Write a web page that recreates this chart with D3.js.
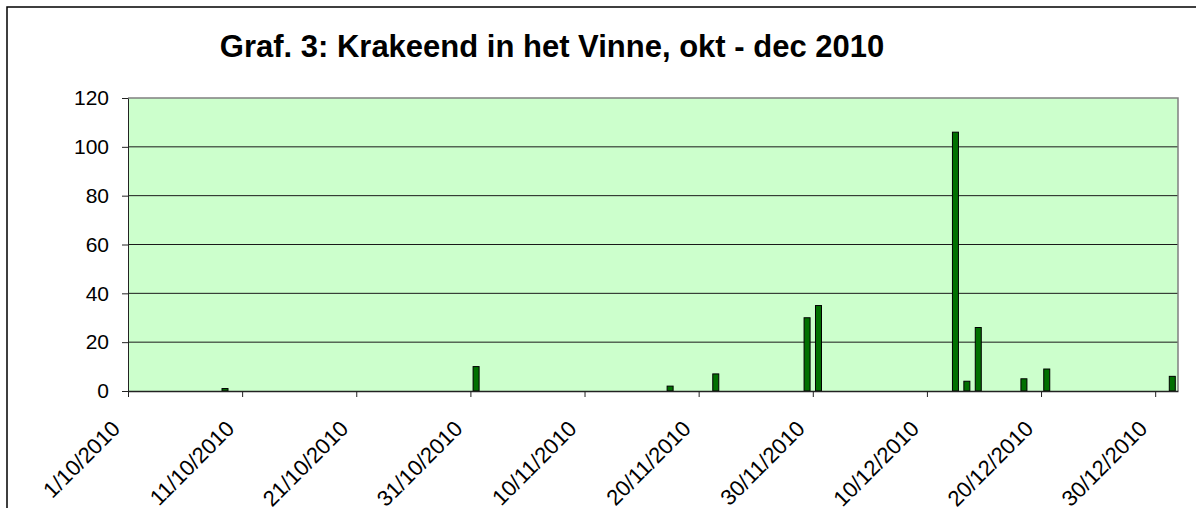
<!DOCTYPE html>
<html>
<head>
<meta charset="utf-8">
<script src="https://cdn.jsdelivr.net/npm/d3@7"></script>
<style>
  body { margin: 0; background: #fff; }
  svg text { font-family: "Liberation Sans", Arial, sans-serif; fill: #000; }
</style>
</head>
<body>
<svg id="chart" width="1196" height="508"></svg>
<script>
// tellingen krakeend (datum + aantal)
var dates = ["9/10/2010", "31/10/2010", "17/11/2010", "21/11/2010", "29/11/2010", "30/11/2010",
             "12/12/2010", "13/12/2010", "14/12/2010", "18/12/2010", "20/12/2010", "31/12/2010"];
var values = [1, 10, 2, 7, 30, 35, 106, 4, 26, 5, 9, 6];
// labels van de assen
var xTickLabels = ["1/10/2010", "11/10/2010", "21/10/2010", "31/10/2010", "10/11/2010",
                   "20/11/2010", "30/11/2010", "10/12/2010", "20/12/2010", "30/12/2010"];
var yTicks = [0, 20, 40, 60, 80, 100, 120];
var title = "Graf. 3: Krakeend in het Vinne, okt - dec 2010";

var parse = d3.utcParse("%d/%m/%Y");
var svg = d3.select("#chart");

var pLeft = 128, pRight = 1178, pTop = 98, pBottom = 391;
var start = parse("1/10/2010"), end = parse("1/1/2011");

var x = d3.scaleUtc().domain([start, end]).range([pLeft, pRight]);
var y = d3.scaleLinear().domain([0, 120]).range([pBottom, pTop]);
var dayW = x(d3.utcDay.offset(start, 1)) - x(start);
var barW = 6;

// kader rond de grafiek
svg.append("rect")
  .attr("x", 7).attr("y", 7).attr("width", 1260).attr("height", 600)
  .attr("fill", "#fff").attr("stroke", "#000").attr("stroke-width", 1.5);

// titel
svg.append("text")
  .attr("x", 552).attr("y", 57)
  .attr("text-anchor", "middle")
  .style("font-size", "31px").style("font-weight", "bold")
  .text(title);

// plot area
svg.append("rect")
  .attr("x", pLeft).attr("y", pTop).attr("width", pRight - pLeft).attr("height", pBottom - pTop)
  .attr("fill", "#ccffcc");

// rasterlijnen
svg.append("g").selectAll("line")
  .data(yTicks.filter(function (d) { return d > 0 && d < 120; }))
  .enter().append("line")
  .attr("x1", pLeft).attr("x2", pRight)
  .attr("y1", function (d) { return y(d); }).attr("y2", function (d) { return y(d); })
  .attr("stroke", "#1a1a1a").attr("stroke-width", 1);

// rand van plot area
svg.append("path")
  .attr("d", "M" + pLeft + "," + pTop + "H" + pRight + "V" + pBottom)
  .attr("fill", "none").attr("stroke", "#808080").attr("stroke-width", 1.5);

// balken
svg.append("g").selectAll("rect")
  .data(values)
  .enter().append("rect")
  .attr("x", function (d, i) { return x(parse(dates[i])) + dayW / 2 - barW / 2; })
  .attr("y", function (d) { return y(d); })
  .attr("width", barW)
  .attr("height", function (d) { return y(0) - y(d); })
  .attr("fill", "#007000").attr("stroke", "#000").attr("stroke-width", 1);

// y-as
var yAxis = svg.append("g")
  .attr("transform", "translate(" + pLeft + ",0)")
  .call(d3.axisLeft(y).tickValues(yTicks).tickSize(6).tickPadding(13).tickSizeOuter(0));
yAxis.select(".domain").attr("stroke", "#222");
yAxis.selectAll(".tick line").attr("stroke", "#222");
yAxis.selectAll("text").style("font-size", "21px").attr("font-family", null);

// x-as
var xAxis = svg.append("g")
  .attr("transform", "translate(0," + pBottom + ")")
  .call(d3.axisBottom(x).tickValues(xTickLabels.map(parse)).tickSize(6)
    .tickFormat(d3.utcFormat("%-d/%m/%Y")).tickSizeOuter(0));
xAxis.select(".domain").attr("stroke", "#222").attr("stroke-width", 1.5);
xAxis.selectAll(".tick line").attr("stroke", "#222");
xAxis.selectAll("text")
  .style("font-size", "22px").attr("font-family", null)
  .attr("text-anchor", "end")
  .attr("dy", null).attr("y", 0)
  .attr("transform", "translate(-7,39) rotate(-45)");
</script>
</body>
</html>
